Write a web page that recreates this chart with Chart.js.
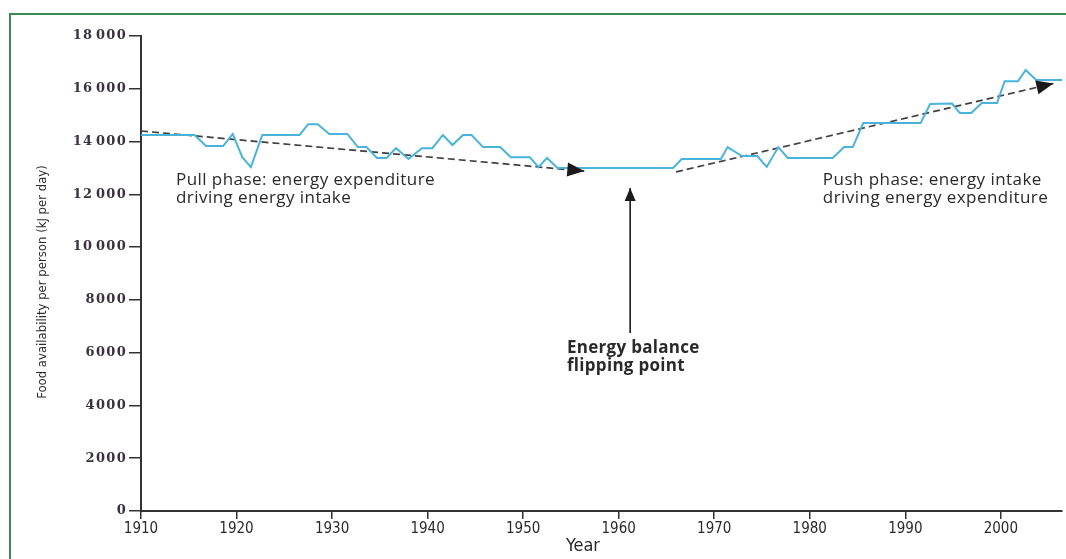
<!DOCTYPE html>
<html><head><meta charset="utf-8">
<script src="https://cdn.jsdelivr.net/npm/chart.js@4"></script>
<style>
html,body{margin:0;padding:0;background:#fff;}
#wrap{position:relative;width:1066px;height:559px;overflow:hidden;}
#frame{position:absolute;left:9px;top:13px;width:1200px;height:700px;border-top:2px solid #3b8a5a;border-left:2px solid #3b8a5a;}
canvas{position:absolute;left:0;top:0;}
</style></head><body>
<div id="wrap"><div id="frame"></div><canvas id="c" width="1066" height="559"></canvas></div>
<script>
// ---- data ----
const years = [1910, 1915.6, 1916.8, 1918.6, 1919.6, 1920.6, 1921.5, 1922.7, 1926.6, 1927.5, 1928.5,
  1929.7, 1931.6, 1932.7, 1933.6, 1934.7, 1935.7, 1936.7, 1938.0, 1939.4, 1940.5, 1941.6, 1942.6,
  1943.7, 1944.6, 1945.8, 1947.6, 1948.7, 1950.7, 1951.6, 1952.5, 1953.6, 1965.7, 1966.6, 1970.7,
  1971.4, 1972.9, 1974.5, 1975.5, 1976.7, 1977.7, 1982.4, 1983.6, 1984.5, 1985.6, 1991.6, 1992.6,
  1994.9, 1995.7, 1996.9, 1998.0, 1999.6, 2000.4, 2001.8, 2002.6, 2003.7, 2006.4];
const foodKJ = [14250, 14250, 13830, 13830, 14290, 13410, 13030, 14250, 14250, 14660, 14660,
  14290, 14290, 13790, 13790, 13380, 13380, 13750, 13340, 13750, 13750, 14250, 13870,
  14250, 14250, 13790, 13790, 13410, 13410, 13030, 13380, 13000, 13000, 13340, 13340,
  13790, 13450, 13450, 13040, 13790, 13380, 13380, 13790, 13790, 14700, 14700, 15420,
  15440, 15080, 15080, 15460, 15460, 16290, 16290, 16710, 16330, 16330];
const pullTrendYears = [1910, 1956.4];
const pullTrendValues = [14400, 12880];
const pushTrendYears = [1966, 2005.5];
const pushTrendValues = [12850, 16200];
const flipArrowYears = [1961.2, 1961.2];
const flipArrowValues = [6750, 12240];
const xTickValues = [1910, 1920, 1930, 1940, 1950, 1960, 1970, 1980, 1990, 2000];
const yTickValues = [0, 2000, 4000, 6000, 8000, 10000, 12000, 14000, 16000, 18000];
const pullLabel = ['Pull phase: energy expenditure', 'driving energy intake'];
const pushLabel = ['Push phase: energy intake', 'driving energy expenditure'];
const flipLabel = ['Energy balance', 'flipping point'];
const labelAnchors = { pull: [1913.66, 12543], push: [1981.37, 12543], flip: [1954.58, 6176] };

const toPts = (xs, ys) => xs.map((x, i) => ({ x, y: ys[i] }));
const TEXT = '#2a2a2a';
const NARROW = '"Liberation Sans Narrow", "DejaVu Sans Condensed", sans-serif';
const ANN = '"Open Sans", "Noto Sans", sans-serif';

const fmtY = v => v >= 10000 ? String(v).slice(0, 2) + '\u200A' + String(v).slice(2) : String(v);

const decor = {
  id: 'decor',
  afterUpdate(chart) {
    const s = chart.scales.y;
    if (s && !s._spaced) {
      const orig = s.drawLabels.bind(s);
      s.drawLabels = function (area) {
        const ctx = chart.ctx; ctx.save(); ctx.letterSpacing = '1.3px'; orig(area); ctx.restore();
      };
      s._spaced = true;
    }
  },
  afterDatasetsDraw(chart) {
    const ctx = chart.ctx;
    const xs = chart.scales.x, ys = chart.scales.y;
    // arrowheads at the end of datasets 1..3
    const heads = [[1, 17, 7], [2, 17, 7], [3, 13, 5.5]];
    heads.forEach(([i, len, half]) => {
      const pts = chart.getDatasetMeta(i).data;
      const a = pts[pts.length - 2], b = pts[pts.length - 1];
      const ang = Math.atan2(b.y - a.y, b.x - a.x);
      ctx.save();
      ctx.translate(b.x, b.y); ctx.rotate(ang);
      ctx.beginPath(); ctx.moveTo(0, 0); ctx.lineTo(-len, -half); ctx.lineTo(-len, half); ctx.closePath();
      ctx.fillStyle = '#1a1a1a'; ctx.fill();
      ctx.restore();
    });
    // annotation text
    const drawLines = (lines, anchor, font, spacing) => {
      ctx.save();
      ctx.font = font; ctx.fillStyle = TEXT; ctx.textAlign = 'left'; ctx.textBaseline = 'middle';
      ctx.letterSpacing = spacing;
      const x = xs.getPixelForValue(anchor[0]);
      const y = ys.getPixelForValue(anchor[1]);
      lines.forEach((t, k) => ctx.fillText(t, x, y + k * 18.5));
      ctx.restore();
    };
    drawLines(pullLabel, labelAnchors.pull, '17px ' + ANN, '0.45px');
    drawLines(pushLabel, labelAnchors.push, '17px ' + ANN, '0.45px');
    drawLines(flipLabel, labelAnchors.flip, 'bold 17px ' + ANN, '0.3px');
    // axis titles
    ctx.save();
    ctx.fillStyle = TEXT; ctx.textAlign = 'center'; ctx.textBaseline = 'middle';
    ctx.font = '18px ' + NARROW;
    ctx.fillText('Year', 583, 546);
    ctx.translate(43, 282); ctx.rotate(-Math.PI / 2);
    ctx.font = '13px ' + NARROW;
    ctx.fillText('Food availability per person (kJ per day)', 0, 0);
    ctx.restore();
  }
};

new Chart(document.getElementById('c'), {
  type: 'line',
  data: {
    datasets: [
      { data: toPts(years, foodKJ), borderColor: '#48b4da', borderWidth: 2, pointRadius: 0, tension: 0 },
      { data: toPts(pullTrendYears, pullTrendValues), borderColor: '#404040', borderWidth: 1.7, borderDash: [7, 4], pointRadius: 0 },
      { data: toPts(pushTrendYears, pushTrendValues), borderColor: '#404040', borderWidth: 1.7, borderDash: [7, 4], pointRadius: 0 },
      { data: toPts(flipArrowYears, flipArrowValues), borderColor: '#1a1a1a', borderWidth: 1.6, pointRadius: 0 }
    ]
  },
  options: {
    responsive: false, animation: false, devicePixelRatio: 1,
    layout: { padding: { left: 0, top: 36, right: 4, bottom: 0 } },
    plugins: { legend: { display: false }, tooltip: { enabled: false } },
    scales: {
      x: {
        type: 'linear', min: 1910, max: 2006.4,
        afterBuildTicks: s => { s.ticks = xTickValues.map(v => ({ value: v })); },
        afterFit: s => { s.height = 48; },
        border: { display: true, color: '#333', width: 2 },
        grid: { drawOnChartArea: false, drawTicks: true, tickLength: 8, color: '#333', lineWidth: 1.5 },
        ticks: { color: TEXT, padding: 1, maxRotation: 0, font: { family: NARROW, size: 15 }, callback: v => String(v) }
      },
      y: {
        min: 0, max: 18000,
        afterBuildTicks: s => { s.ticks = yTickValues.map(v => ({ value: v })); },
        afterFit: s => { s.width = 141; },
        border: { display: true, color: '#333', width: 2 },
        grid: { drawOnChartArea: false, drawTicks: true, tickLength: 12, color: '#333', lineWidth: 1.5 },
        ticks: { color: '#3b3140', padding: 2, font: { family: '"DejaVu Serif", serif', size: 13, weight: 'bold' }, callback: v => fmtY(v) }
      }
    }
  },
  plugins: [decor]
});
</script>
</body></html>
